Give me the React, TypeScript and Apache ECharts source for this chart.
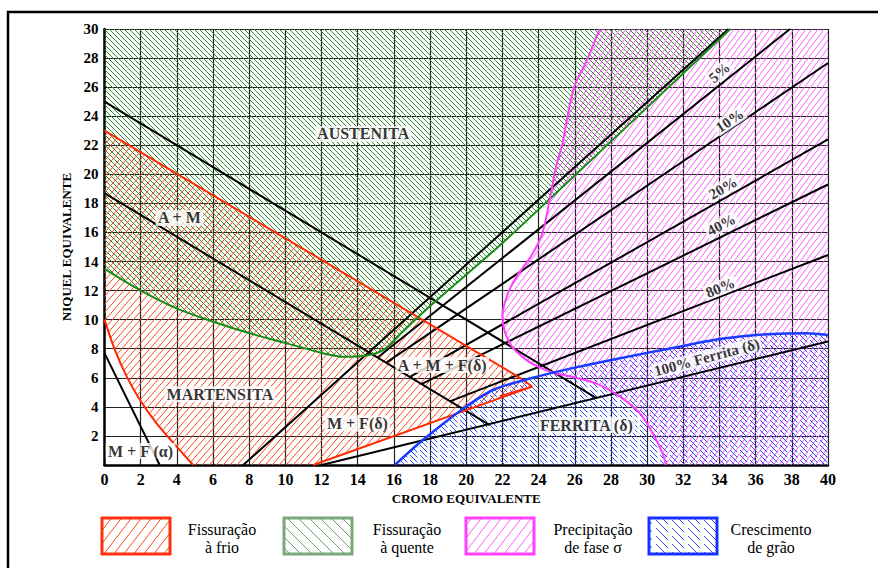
import { useEffect, useRef } from 'react';
import * as echarts from 'echarts';

type Pt = [number, number];

// Axes: chromium equivalent (x) and nickel equivalent (y)
const crMin = 0;
const crMax = 40;
const niMin = 0;
const niMax = 30;
const tickStep = 2;

// Phase boundaries (Cr_eq, Ni_eq)
const austeniteBoundary: Pt[] = [[0, 25], [27.2, 4.6]];
const martensiteBoundary: Pt[] = [[0, 18.7], [21.3, 2.75]];
const alphaFerriteBoundary: Pt[] = [[0, 7.7], [3.05, 0]];
const ferrite0: Pt[] = [[7.67, 0], [34.5, 30]];
const ferrite5: Pt[] = [[15.1, 7.4], [37.9, 30]];
const ferrite10: Pt[] = [[15.56, 7.03], [40, 27.66]];
const ferrite20: Pt[] = [[16.86, 6.05], [40, 22.4]];
const ferrite40: Pt[] = [[17.52, 5.56], [40, 19.3]];
const ferrite80: Pt[] = [[19.09, 4.38], [40, 14.45]];
const ferrite100: Pt[] = [[12, 0], [40, 8.5]];

// Cold cracking zone (martensite)
const coldTop: Pt[] = [[0, 23], [22.9, 6.05], [23.65, 5.4]];
const coldBottom: Pt[] = [[11.54, 0], [23.65, 5.4]];
const coldInner: Pt[] = [[21.85, 4.75], [23.65, 5.4]];
const coldCurve: Pt[] = [[0, 10], [0.58, 7.9], [1.23, 6.08], [1.96, 4.47], [2.88, 2.87], [3.99, 1.26], [4.9, 0]];

// Hot cracking zone (austenite)
const hotBoundary: Pt[] = [
  [0, 13.5], [1.96, 12.04], [3.99, 10.78], [6.01, 9.86], [8.04, 9.06], [10.07, 8.37],
  [12.09, 7.69], [13.2, 7.45], [14.3, 7.5], [15.4, 7.9], [16.3, 8.95], [18, 10.94],
  [21.82, 15.07], [24.6, 18.28], [34.6, 30],
];

// Sigma phase precipitation zone
const sigmaBoundary: Pt[] = [
  [27.37, 30], [26.72, 28], [25.98, 26.06], [25.6, 24], [25.3, 22], [24.97, 20.57],
  [24.58, 18.05], [24.2, 15.9], [23.6, 14.4], [22.8, 13.0], [22.3, 11.8], [22.0, 10.3],
  [22.1, 9.3], [22.5, 8.2], [23.3, 7.25], [24.0, 6.75], [24.8, 6.35], [25.9, 6.05],
  [27.2, 5.6], [28.5, 4.7], [29.6, 3.55], [30.3, 2.2], [30.85, 0.8], [31.05, 0],
];

// Grain growth zone (ferrite)
const grainBoundary: Pt[] = [
  [16.05, 0], [17.6, 1.72], [19.73, 3.79], [21.48, 5.16], [23.67, 6.0], [26.0, 6.7],
  [28.3, 7.3], [31.4, 8.05], [34.2, 8.7], [36.95, 9.02], [38.8, 9.06], [40, 8.95],
];

const regionNames = ['AUSTENITA', 'A + M', 'MARTENSITA', 'M + F (α)', 'M + F(δ)', 'A + M + F(δ)', 'FERRITA (δ)'];
const regionAnchors: Pt[] = [[14.3, 22.78], [4.14, 17.0], [6.38, 4.87], [1.99, 0.96], [13.98, 2.87], [18.67, 6.88], [26.64, 2.75]];

const ferriteNames = ['5%', '10%', '20%', '40%', '80%', '100% Ferrita (δ)'];
const ferriteAnchors: Pt[] = [[34.0, 27.0], [34.56, 23.69], [34.19, 19.04], [34.1, 16.52], [34.05, 12.2], [33.3, 7.4]];
const ferriteAngles = [40, 34, 30, 27, 22, 15];

const legendTitles = ['Fissuração\nà frio', 'Fissuração\nà quente', 'Precipitação\nde fase σ', 'Crescimento\nde grão'];

const SERIF = '"Liberation Serif", "Times New Roman", serif';

function hatch(w: number, h: number, color: string, dir: 'up' | 'down', lw = 1) {
  const c = document.createElement('canvas');
  c.width = w;
  c.height = h;
  const ctx = c.getContext('2d')!;
  ctx.strokeStyle = color;
  ctx.lineWidth = lw;
  for (let k = -1; k <= 1; k++) {
    ctx.beginPath();
    if (dir === 'up') {
      ctx.moveTo(k * w, h);
      ctx.lineTo(k * w + w, 0);
    } else {
      ctx.moveTo(k * w, 0);
      ctx.lineTo(k * w + w, h);
    }
    ctx.stroke();
  }
  return { image: c, repeat: 'repeat', imageWidth: w, imageHeight: h } as any;
}

// Dashed "\" hatch: two staggered dashed lines per tile
function dashedHatch(s: number, color: string, lw = 1) {
  const w = 2 * s;
  const c = document.createElement('canvas');
  c.width = w;
  c.height = w;
  const ctx = c.getContext('2d')!;
  ctx.strokeStyle = color;
  ctx.lineWidth = lw;
  const seg = (x1: number, y1: number, x2: number, y2: number) => {
    ctx.beginPath();
    ctx.moveTo(x1, y1);
    ctx.lineTo(x2, y2);
    ctx.stroke();
  };
  seg(-0.5, -0.5, 0.74 * w, 0.74 * w);
  seg(0, s, s + 0.5, w + 0.5);
  seg(s - 0.5, -0.5, s + 0.24 * w, 0.24 * w);
  return { image: c, repeat: 'repeat', imageWidth: w, imageHeight: w } as any;
}

export default function App() {
  const ref = useRef<HTMLDivElement>(null);

  useEffect(() => {
    const el = ref.current!;
    const chart = echarts.init(el, null, { renderer: 'svg' });

    const RED = '#ff2a00';
    const GREEN = '#158c15';
    const MAGENTA = '#ff3dff';
    const BLUE = '#1a3cff';

    const redFill = hatch(7, 8, '#ff4a20', 'up');
    const greenFill = hatch(5, 5, '#2f8f2f', 'down');
    const magentaFill = hatch(6, 8, '#ff5cff', 'up');
    const blueFill = dashedHatch(5, '#2a4dff');

    const legendFills = [
      hatch(10, 13, '#ff4a20', 'up'),
      hatch(11, 11, '#6f9f6f', 'down'),
      hatch(10, 13, '#ff5cff', 'up'),
      dashedHatch(8, '#2a4dff'),
    ];
    const legendStrokes = ['#ff3010', '#7aa87a', '#ff40ff', '#1530ff'];

    const coldPolygon: Pt[] = [
      ...coldTop,
      ...coldBottom.slice().reverse().slice(1),
      ...coldCurve.slice().reverse(),
    ];
    const hotPolygon: Pt[] = [...hotBoundary, [crMin, niMax]];
    const sigmaPolygon: Pt[] = [...sigmaBoundary, [crMax, niMin], [crMax, niMax]];
    const grainPolygon: Pt[] = [...grainBoundary, [crMax, niMin]];

    const zone = (pts: Pt[], fill: any) => ({
      type: 'custom',
      silent: true,
      z: 1,
      data: [[0, 0]],
      renderItem: (_p: any, api: any) => ({
        type: 'polygon',
        shape: { points: pts.map((p) => api.coord(p)) },
        style: { fill, stroke: 'none' },
      }),
    });

    const line = (pts: Pt[], color: string, width: number, z = 3, smooth: number | boolean = false) => ({
      type: 'line',
      data: pts,
      symbol: 'none',
      smooth,
      silent: true,
      z,
      lineStyle: { color, width },
    });

    const labelBase = {
      show: true,
      position: 'inside',
      color: '#000',
      fontFamily: SERIF,
      fontWeight: 'bold',
      fontSize: 16,
      backgroundColor: '#fff',
      padding: [0, 2],
    };

    const legendX = [102, 284, 466, 649];
    const legendTextX = [222, 407, 593, 771];
    const legendGraphics: any[] = [];
    legendTitles.forEach((t, i) => {
      legendGraphics.push({
        type: 'rect',
        shape: { x: legendX[i], y: 518, width: 68, height: 36 },
        style: { fill: legendFills[i], stroke: legendStrokes[i], lineWidth: 3 },
        z: 50,
      });
      legendGraphics.push({
        type: 'text',
        x: legendTextX[i],
        y: 538,
        style: {
          text: t,
          fill: '#000',
          fontFamily: SERIF,
          fontSize: 16,
          lineHeight: 18,
          align: 'center',
          verticalAlign: 'middle',
        },
        z: 50,
      });
    });

    const option: any = {
      animation: false,
      backgroundColor: '#fff',
      grid: { left: 104.5, top: 29, right: 50, bottom: 103 },
      xAxis: {
        type: 'value',
        min: crMin,
        max: crMax,
        interval: tickStep,
        name: 'CROMO EQUIVALENTE',
        nameLocation: 'middle',
        nameGap: 27,
        nameTextStyle: { fontFamily: SERIF, fontWeight: 'bold', fontSize: 13, color: '#000' },
        axisLine: { show: true, lineStyle: { color: '#000', width: 2.5 } },
        axisTick: { show: false },
        axisLabel: { fontFamily: SERIF, fontWeight: 'bold', fontSize: 16, color: '#000', margin: 6 },
        splitLine: { show: true, lineStyle: { color: '#222', width: 1.2 } },
      },
      yAxis: {
        type: 'value',
        min: niMin,
        max: niMax,
        interval: tickStep,
        name: 'NIQUEL EQUIVALENTE',
        nameLocation: 'middle',
        nameGap: 30,
        nameTextStyle: { fontFamily: SERIF, fontWeight: 'bold', fontSize: 13, color: '#000' },
        axisLine: { show: true, lineStyle: { color: '#000', width: 2.5 } },
        axisTick: { show: false },
        axisLabel: {
          fontFamily: SERIF,
          fontWeight: 'bold',
          fontSize: 15,
          color: '#000',
          margin: 6,
          formatter: (v: number) => (v === 0 ? '' : String(v)),
        },
        splitLine: { show: true, lineStyle: { color: '#222', width: 1.2 } },
      },
      graphic: [
        {
          type: 'rect',
          shape: { x: 8, y: 12, width: 900, height: 600 },
          style: { fill: 'none', stroke: '#000', lineWidth: 2.5 },
          z: 100,
        },
        ...legendGraphics,
      ],
      series: [
        zone(hotPolygon, greenFill),
        zone(coldPolygon, redFill),
        zone(sigmaPolygon, magentaFill),
        zone(grainPolygon, blueFill),

        line(austeniteBoundary, '#000', 2),
        line(martensiteBoundary, '#000', 2),
        line(alphaFerriteBoundary, '#000', 2),
        line(ferrite0, '#000', 2),
        line(ferrite5, '#000', 2),
        line(ferrite10, '#000', 2),
        line(ferrite20, '#000', 2),
        line(ferrite40, '#000', 2),
        line(ferrite80, '#000', 2),
        line(ferrite100, '#000', 2),

        line(coldTop, RED, 2, 4),
        line(coldBottom, RED, 2, 4),
        line(coldInner, RED, 1.5, 4),
        line(coldCurve, RED, 2, 4, 0.3),
        line(hotBoundary, GREEN, 2, 4, 0.3),
        line(sigmaBoundary, MAGENTA, 2, 4, 0.3),
        line(grainBoundary, BLUE, 2.5, 4, 0.3),

        {
          type: 'scatter',
          silent: true,
          z: 10,
          symbolSize: 1,
          itemStyle: { color: 'rgba(0,0,0,0)' },
          label: labelBase,
          data: regionNames.map((n, i) => ({ value: regionAnchors[i], label: { formatter: n } })),
        },
        {
          type: 'scatter',
          silent: true,
          z: 10,
          symbolSize: 1,
          itemStyle: { color: 'rgba(0,0,0,0)' },
          label: { ...labelBase, fontSize: 15 },
          data: ferriteNames.map((n, i) => ({
            value: ferriteAnchors[i],
            label: { formatter: n, rotate: ferriteAngles[i] },
          })),
        },
      ],
    };

    chart.setOption(option);
    return () => chart.dispose();
  }, []);

  return (
    <div
      ref={ref}
      style={{ position: 'fixed', left: 0, top: 0, width: 878, height: 568, background: '#fff' }}
    />
  );
}
